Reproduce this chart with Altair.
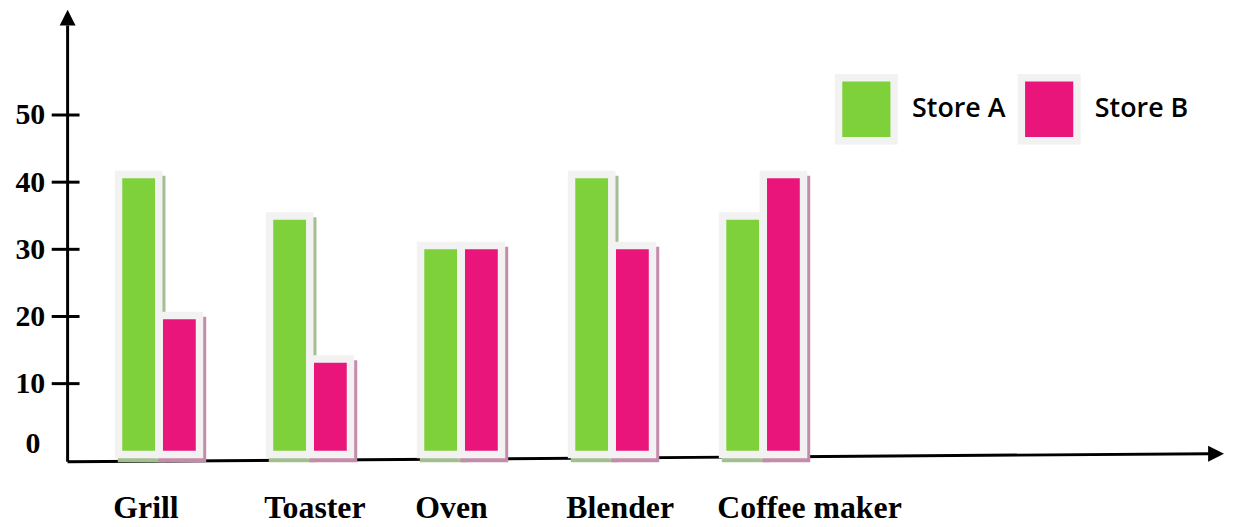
import altair as alt
import pandas as pd

# ---- data ----
categories = ["Grill", "Toaster", "Oven", "Blender", "Coffee maker"]
stores = ["Store A", "Store B"]
store_a = [40.6, 34.4, 30.0, 40.6, 34.4]
store_b = [19.6, 13.1, 30.0, 30.0, 40.6]
y_ticks = [10, 20, 30, 40, 50]
y_labels = [0, 10, 20, 30, 40, 50]

# ---- styles ----
fill_colors = ["#7FD13B", "#EA157A"]
shadow_colors = ["#A3BE8F", "#C48BAA"]
frame_color = "#F2F2F2"

rows = []
for c, a, b in zip(categories, store_a, store_b):
    rows.append({"category": c, "store": stores[0], "value": a})
    rows.append({"category": c, "store": stores[1], "value": b})
df = pd.DataFrame(rows)

PLOT_W, PLOT_H = 1165, 455

yscale = alt.Scale(domain=[0, 50], range=[444, 106], nice=False, zero=False)
xscale = alt.Scale(domain=categories, range=[16, 776], paddingInner=0, paddingOuter=0)

xaxis = alt.Axis(
    title=None, domain=False, ticks=False, tickSize=0, grid=False, labelAngle=0,
    labelAlign="left", labelBaseline="alphabetic", labelOffset=-46, labelPadding=56,
    labelFont="Liberation Serif", labelFontSize=32, labelFontWeight="bold",
    labelColor="black", labelOverlap=False, labelBound=False, labelLimit=400,
)
yaxis = alt.Axis(
    title=None, domain=False, ticks=False, tickSize=0, grid=False, values=y_labels,
    labelPadding=alt.condition("datum.value == 0", alt.value(28), alt.value(23)),
    labelOffset=alt.condition("datum.value == 0", alt.value(-7), alt.value(0)),
    labelFont="Liberation Serif", labelFontSize=30, labelFontWeight="bold",
    labelColor="black", labelOverlap=False, labelBound=False,
)

X = alt.X("category:N", scale=xscale, axis=xaxis, sort=categories)
Y = alt.Y("value:Q", scale=yscale, axis=yaxis)

legend = alt.Legend(
    title=None, orient="none", legendX=772, legendY=68, direction="horizontal",
    symbolType="M-1,-1.13H1V1.13H-1Z", symbolSize=3136,
    symbolStrokeColor=frame_color, symbolStrokeWidth=7.5, symbolOpacity=1,
    labelFont="Open Sans", labelFontSize=27, labelFontWeight=600, labelColor="black",
    labelOffset=14, columnPadding=0, padding=0, labelLimit=400,
)
color = alt.Color("store:N", scale=alt.Scale(domain=stores, range=fill_colors), legend=legend)

one = alt.Data(values=[{}])

y_line = alt.Chart(one).mark_rule(color="black", strokeWidth=3).encode(
    x=alt.value(0), y=alt.value(16), y2=alt.value(PLOT_H)
)
x_line = alt.Chart(one).mark_rule(color="black", strokeWidth=3).encode(
    x=alt.value(0), x2=alt.value(1150), y=alt.value(PLOT_H), y2=alt.value(447)
)
tick_rules = alt.Chart(pd.DataFrame({"value": y_ticks})).mark_rule(
    color="black", strokeWidth=3
).encode(y=Y, x=alt.value(-16), x2=alt.value(12))

up_arrow = alt.Chart(one).mark_point(
    shape="M0,-1L1,1L-1,1Z", size=256, filled=True, color="black", opacity=1
).encode(x=alt.value(0), y=alt.value(8))
right_arrow = alt.Chart(one).mark_point(
    shape="M1,0L-1,-1L-1,1Z", size=256, filled=True, color="black", opacity=1
).encode(x=alt.value(1156), y=alt.value(447))


def store_layers(store, dx, shadow):
    base = alt.Chart(df).transform_filter(alt.datum.store == store)
    sh = base.mark_bar(
        size=48, color=shadow, xOffset=dx + 3, yOffset=-2.5, y2Offset=11.5
    ).encode(x=X, y=Y, y2=alt.datum(0))
    bar = base.mark_bar(
        size=40.5, stroke=frame_color, strokeWidth=7.5, xOffset=dx,
        yOffset=-3.75, y2Offset=3.75,
    ).encode(x=X, y=Y, y2=alt.datum(0), color=color)
    return [sh, bar]


layers = [y_line, x_line, tick_rules]
layers += store_layers(stores[0], -20.5, shadow_colors[0])
layers += store_layers(stores[1], 20.5, shadow_colors[1])
layers += [up_arrow, right_arrow]

chart = alt.layer(*layers).properties(
    width=PLOT_W, height=PLOT_H,
    autosize=alt.AutoSizeParams(type="none"),
    padding={"left": 60, "top": 0, "right": 0, "bottom": 64},
    background="white",
).configure_view(stroke=None)

chart.save("out.html", embed_options={"renderer": "svg", "actions": False})
